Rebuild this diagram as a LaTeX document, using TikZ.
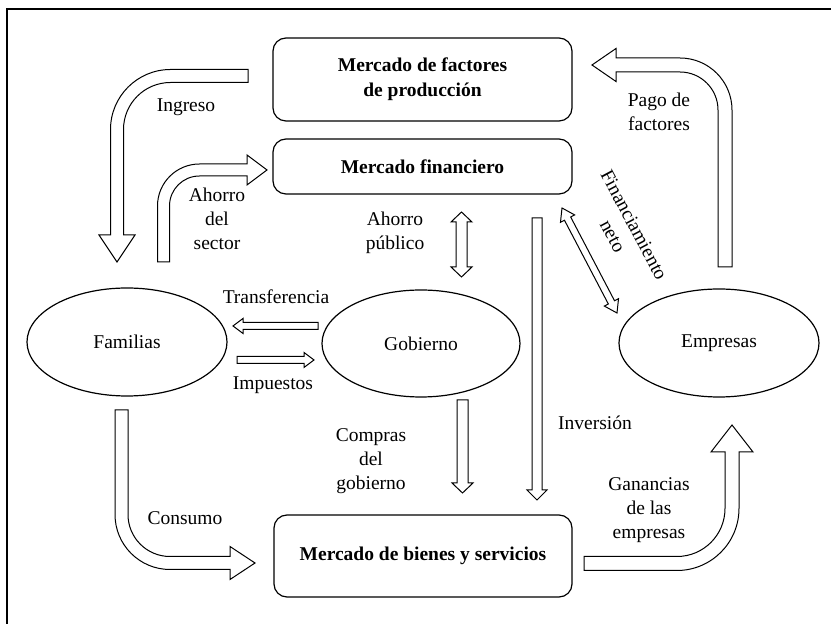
\documentclass[tikz,border=0pt]{standalone}
\usepackage{fontspec}
\setmainfont{Liberation Serif}
\usetikzlibrary{shapes.geometric}
\begin{document}
\begin{tikzpicture}[x=0.5pt,y=-0.5pt,line width=0.55pt,
  lbl/.style={font=\fontsize{9.75}{12}\selectfont, align=center, inner sep=0pt},
  mkt/.style={draw, rounded corners=6.5pt, inner sep=0pt, font=\fontsize{9.75}{12.5}\selectfont\bfseries, align=center, line width=0.6pt},
  oval/.style={draw, ellipse, inner sep=0pt, minimum width=100pt, minimum height=54pt, font=\fontsize{9.75}{12}\selectfont, line width=0.6pt},
  blk/.style={draw, fill=white, line join=miter, line width=0.5pt}]
\useasboundingbox (0,0) rectangle (831,624);
\draw[line width=0.75pt] (7,624) -- (7,9) -- (831,9);

% boxes
\node[mkt, minimum width=149.5pt, minimum height=41.5pt] (fac) at (422.5,79.5) {Mercado de factores\\de producción};
\node[mkt, minimum width=149.5pt, minimum height=27.5pt] (fin) at (422.5,166.5) {Mercado financiero};
\node[mkt, minimum width=149pt, minimum height=41pt] (bys) at (423,556) {Mercado de bienes y servicios};

% ellipses
\node[oval] (fam) at (127,342) {Familias};
\node[oval, minimum width=99pt, minimum height=53.5pt] (gob) at (421,343.5) {Gobierno};
\node[oval] (emp) at (719,343) {Empresas};

% Ingreso
\draw[blk] (248,69.5) -- (170.5,69.5) .. controls (137.4,69.5) and (110.5,96.4) .. (110.5,129.5)
  -- (110.5,235) -- (99,235) -- (117,262) -- (135,235) -- (123.5,235) -- (123.5,129.5)
  .. controls (123.5,103.5) and (144.5,82.5) .. (170.5,82.5) -- (248,82.5) -- cycle;
% Ahorro del sector
\draw[blk] (157.5,262) -- (157.5,206) .. controls (157.5,182.8) and (176.3,164) .. (199.5,164)
  -- (247,164) -- (247,155) -- (267,170) -- (247,185) -- (247,176) -- (199.5,176)
  .. controls (182.9,176) and (169.5,189.4) .. (169.5,206) -- (169.5,262) -- cycle;
% Pago de factores
\draw[blk] (732,267) -- (732,110) .. controls (732,81.3) and (708.7,58) .. (680,58)
  -- (616,58) -- (616,48.5) -- (592,65) -- (616,81.5) -- (616,72) -- (680,72)
  .. controls (701,72) and (718,89) .. (718,110) -- (718,267) -- cycle;
% Consumo
\draw[blk] (115,410) -- (115,514.5) .. controls (115,544.9) and (139.6,569.5) .. (170,569.5)
  -- (230,569.5) -- (230,579.5) -- (255,563) -- (230,546.5) -- (230,556.5) -- (170,556.5)
  .. controls (146.8,556.5) and (128,537.7) .. (128,514.5) -- (128,410) -- cycle;
% Ganancias
\draw[blk] (584,556.5) -- (677,556.5) .. controls (703.5,556.5) and (725,535) .. (725,508.5)
  -- (725,452) -- (711,452) -- (732,425) -- (753,452) -- (739,452) -- (739,508.5)
  .. controls (739,542.7) and (711.2,570.5) .. (677,570.5) -- (584,570.5) -- cycle;
% Transferencia
\draw[blk] (318,322.5) -- (243,322.5) -- (243,318.5) -- (233,326) -- (243,333.5) -- (243,329.5) -- (318,329.5) -- cycle;
% Impuestos
\draw[blk] (237,356.5) -- (304,356.5) -- (304,352.5) -- (314,360) -- (304,367.5) -- (304,363.5) -- (237,363.5) -- cycle;
% Ahorro publico
\draw[blk] (461.5,212) -- (472,222) -- (467,222) -- (467,267) -- (472,267) -- (461.5,277) -- (451,267) -- (456,267) -- (456,222) -- (451,222) -- cycle;
% Compras
\draw[blk] (457,400) -- (468,400) -- (468,483) -- (473,483) -- (462.5,493) -- (452,483) -- (457,483) -- cycle;
% Inversion
\draw[blk] (532,218) -- (542,218) -- (542,490) -- (547,490) -- (537,500) -- (527,490) -- (532,490) -- cycle;
% Financiamiento neto
\draw[blk] (562,208) -- (574.66,214.92) -- (570.67,217.01) -- (614.53,300.75) -- (618.52,298.66)
  -- (617,313) -- (604.34,306.08) -- (608.33,303.99) -- (564.47,220.25) -- (560.48,222.34) -- cycle;

% labels
\node[lbl] (l-ing) at (186,107) {Ingreso};
\node[lbl] (l-ahs) at (217,219) {Ahorro\\del\\sector};
\node[lbl] (l-pag) at (659,112) {Pago de\\factores};
\node[lbl] (l-ahp) at (395,232.5) {Ahorro\\público};
\node[lbl] (l-tra) at (276,297) {Transferencia};
\node[lbl] (l-imp) at (273,385) {Impuestos};
\node[lbl] (l-com) at (371,461) {Compras\\del\\gobierno};
\node[lbl] (l-inv) at (595,423) {Inversión};
\node[lbl] (l-gan) at (649,510) {Ganancias\\de las\\empresas};
\node[lbl] (l-con) at (185,518) {Consumo};
\node[lbl, rotate=-62] (l-fin) at (623.5,230.5) {Financiamiento\\neto};
\end{tikzpicture}
\end{document}
